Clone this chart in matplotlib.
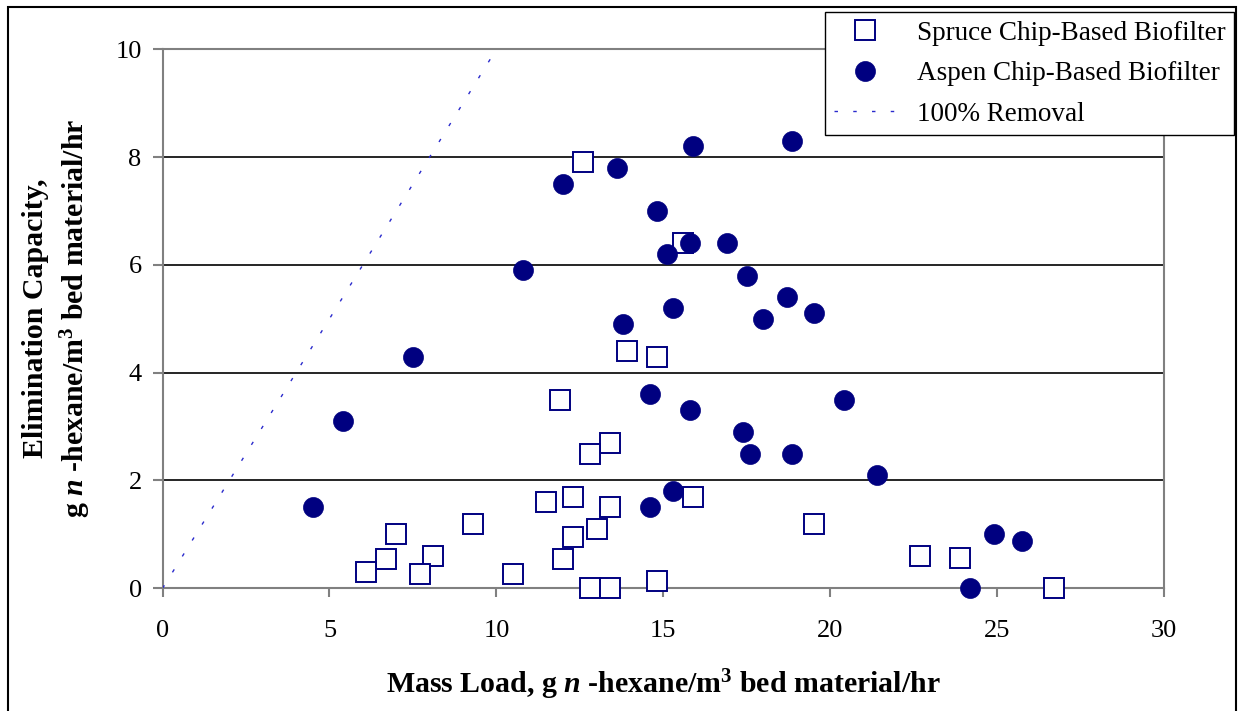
import numpy as np
import matplotlib
matplotlib.use('Agg')
import matplotlib.pyplot as plt
from matplotlib.patches import Rectangle

plt.rcParams['font.family'] = 'Liberation Serif'
plt.rcParams['mathtext.fontset'] = 'custom'
plt.rcParams['mathtext.rm'] = 'Liberation Serif:bold'
plt.rcParams['mathtext.bf'] = 'Liberation Serif:bold'
plt.rcParams['mathtext.it'] = 'Liberation Serif:bold:italic'

# spruce chip biofilter
spruce_x = [12.6, 15.6, 13.9, 14.8, 11.9, 13.4, 12.8, 11.5, 12.3, 13.4, 15.9, 9.3, 19.5, 7.0,
            12.3, 13.0, 6.7, 8.1, 12.0, 6.1, 7.7, 10.5, 12.8, 13.4, 14.8, 22.7, 23.9, 26.7]
spruce_y = [7.9, 6.4, 4.4, 4.3, 3.5, 2.7, 2.5, 1.6, 1.7, 1.5, 1.7, 1.2, 1.2, 1.0,
            0.95, 1.1, 0.55, 0.6, 0.55, 0.3, 0.27, 0.27, 0.0, 0.0, 0.14, 0.6, 0.56, 0.0]

# aspen chip biofilter
aspen_x = [4.5, 5.4, 7.5, 10.8, 12.0, 13.6, 15.9, 18.85, 14.8, 15.1, 15.8, 16.9, 17.5, 18.7, 18.0,
           19.5, 15.3, 13.8, 14.6, 15.8, 20.4, 17.4, 17.6, 18.85, 21.4, 15.3, 14.6, 24.9, 25.75, 24.2]
aspen_y = [1.5, 3.1, 4.3, 5.9, 7.5, 7.8, 8.2, 8.3, 7.0, 6.2, 6.4, 6.4, 5.8, 5.4, 5.0,
           5.1, 5.2, 4.9, 3.6, 3.3, 3.5, 2.9, 2.5, 2.5, 2.1, 1.8, 1.5, 1.0, 0.87, 0.0]

# 100% removal: elimination = load
removal = [0, 10]

x_ticks = [0, 5, 10, 15, 20, 25, 30]
y_ticks = [0, 2, 4, 6, 8, 10]

navy = '#000080'

fig = plt.figure(figsize=(12.39, 7.11), dpi=100)
ax = fig.add_axes([0.1312, 0.1726, 0.8083, 0.7581])

ax.plot(spruce_x, spruce_y, 's', ms=14.4, mfc='white', mec=navy, mew=1.4,
        label='Spruce Chip-Based Biofilter', clip_on=False, zorder=4)
ax.plot(aspen_x, aspen_y, 'o', ms=14.4, mfc=navy, mec=navy, mew=0.5,
        label='Aspen Chip-Based Biofilter', clip_on=False, zorder=5)
ax.plot(removal, removal, color='#2a2acc', lw=1.0, ls=(0, (2.5, 11)),
        label='100% Removal', zorder=3)

ax.set_xlim(0, 30)
ax.set_ylim(0, 10)
ax.set_xticks(x_ticks)
ax.set_yticks(y_ticks)
ax.yaxis.grid(True, color='black', lw=1.2)
ax.set_axisbelow(True)
for s in ax.spines.values():
    s.set_color('#808080')
    s.set_linewidth(1.5)
ax.tick_params(axis='both', direction='out', color='#808080', width=1.5,
               labelsize=19)
ax.tick_params(axis='y', length=7, pad=8)
ax.tick_params(axis='x', length=6.5, pad=16)

fig.text(663 / 1239, 1 - 693 / 711,
         r'Mass Load, g $\mathit{n}$ -hexane/m$^{3}$ bed material/hr',
         fontsize=21.5, fontweight='bold', ha='center', va='baseline')
fig.text(36 / 1239, 1 - 318 / 711, 'Elimination Capacity,',
         fontsize=21.5, fontweight='bold', rotation=90, ha='center', va='center')
fig.text(76 / 1239, 1 - 318 / 711,
         r'g $\mathit{n}$ -hexane/m$^{3}$ bed material/hr',
         fontsize=21.5, fontweight='bold', rotation=90, ha='center', va='center')

leg = ax.legend(loc='upper right', bbox_to_anchor=(1234 / 1239, 1 - 12 / 711),
                bbox_transform=fig.transFigure, fontsize=19.5, frameon=True,
                fancybox=False, edgecolor='black', framealpha=1, borderaxespad=0,
                numpoints=1, handlelength=2.25, handletextpad=0.8,
                borderpad=0.32, labelspacing=0.57)
leg.get_frame().set_linewidth(1.0)
leg.set_zorder(10)

# outer chart border
fig.patches.append(Rectangle((8 / 1239, -0.05), 1228 / 1239, (704 / 711) + 0.05,
                             transform=fig.transFigure, fill=False,
                             edgecolor='black', lw=1.5))

fig.savefig('out.png', dpi=100)
